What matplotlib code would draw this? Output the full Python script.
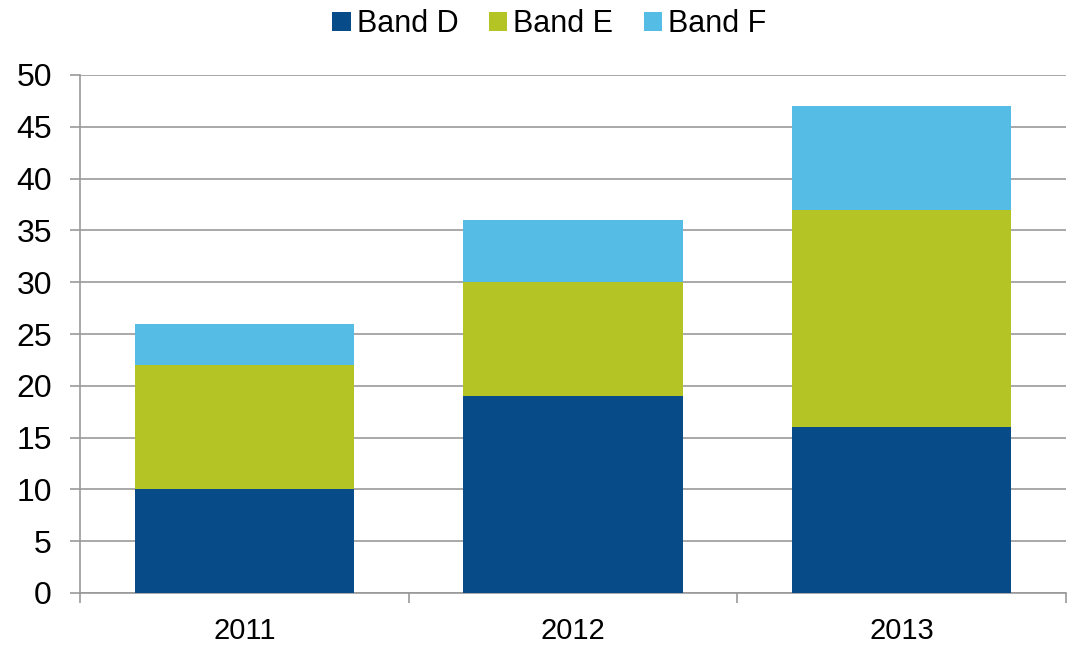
import numpy as np
import matplotlib.pyplot as plt

plt.rcParams['font.family'] = ['Liberation Sans', 'DejaVu Sans']

years = ['2011', '2012', '2013']
band_d = [10, 19, 16]
band_e = [12, 11, 21]
band_f = [4, 6, 10]
colors = {'Band D': '#074C89', 'Band E': '#B3C424', 'Band F': '#55BCE6'}

fig = plt.figure(figsize=(10.72, 6.46), dpi=100)
ax = fig.add_axes([80/1072, 1 - 593/646, (1066-80)/1072, (593-75)/646])

x = np.arange(len(years))
w = 0.667
bottom = np.zeros(3)
for name, vals in [('Band D', band_d), ('Band E', band_e), ('Band F', band_f)]:
    ax.bar(x, vals, w, bottom=bottom, color=colors[name], label=name, zorder=3)
    bottom += np.array(vals)

ax.set_xlim(-0.5, 2.5)
ax.set_ylim(0, 50)
ax.set_yticks(range(0, 51, 5))
ax.set_xticks(x)
ax.set_xticklabels(years)
ax.set_xticks([-0.5, 0.5, 1.5, 2.5], minor=True)
ax.tick_params(axis='x', which='major', length=0, pad=17.5, labelsize=21)
ax.tick_params(axis='x', which='minor', length=7.2, color='#999999', width=1.2)
ax.tick_params(axis='y', length=7.2, color='#999999', width=1.2, pad=13, labelsize=23)
ax.grid(axis='y', color='#999999', linewidth=1.2, zorder=0)
for s in ['top', 'right']:
    ax.spines[s].set_visible(False)
for s in ['left', 'bottom']:
    ax.spines[s].set_color('#999999')
    ax.spines[s].set_linewidth(1.2)

handles, labels = ax.get_legend_handles_labels()
fig.legend(handles, labels, loc='center', bbox_to_anchor=(549.5/1072, 1 - 24/646),
           ncol=3, frameon=False, fontsize=22, handlelength=0.6, handleheight=0.6,
           handletextpad=0.2, columnspacing=1.0, borderpad=0)

fig.savefig('out.png', dpi=100)
